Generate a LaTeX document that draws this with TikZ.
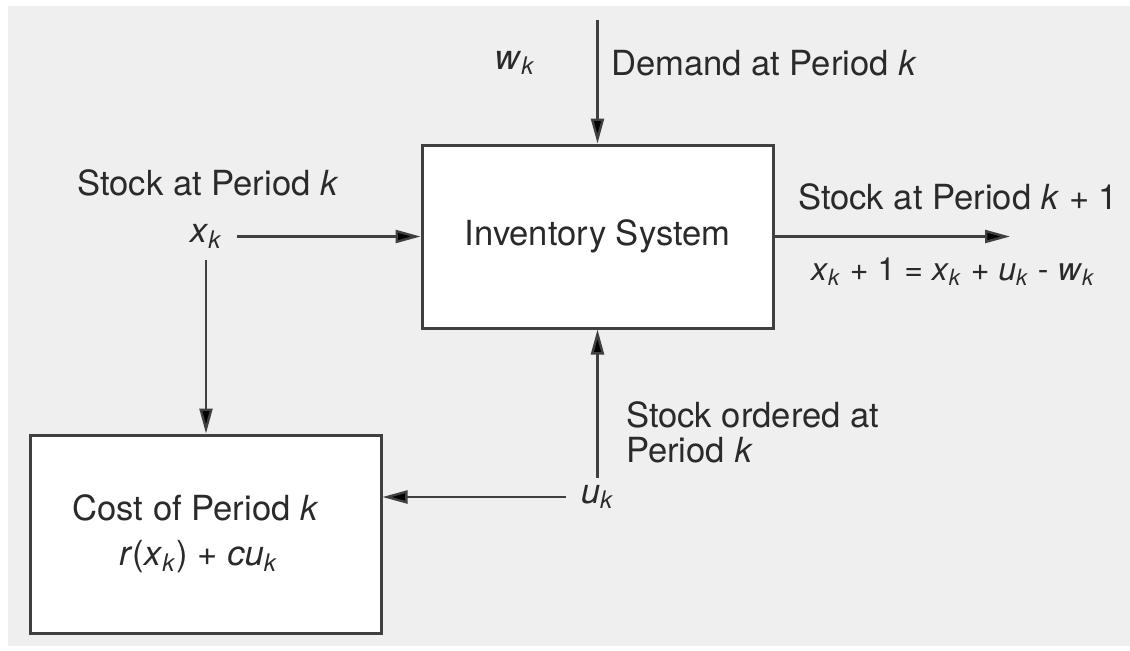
\documentclass[tikz,border=0pt]{standalone}
\usepackage{fontspec}
\setmainfont{TeX Gyre Heros}
\usetikzlibrary{arrows.meta,positioning}
\definecolor{panel}{HTML}{EFEFEF}
\definecolor{ink}{HTML}{2A2A2A}
\newcommand{\ivar}[2]{\textit{#1}\textsubscript{\textit{#2}}}

\begin{document}
\begin{tikzpicture}[x=0.5pt,y=-0.5pt, font=\fontsize{17.3}{17.5}\selectfont, text=ink,
	box/.style={draw=black!75, line width=1.5pt, fill=white, minimum width=175.5pt},
	flow/.style={-{Triangle[length=12.5pt,width=6.5pt,fill=black]}, line width=1.2pt, draw=black!75}]
	\useasboundingbox (0,0) rectangle (1130,650);
	\fill[panel] (8,6) rectangle (1130,646);
	% blocks
	\node[box, minimum height=91.5pt] (inv) at (597.5,236.5) {Inventory System};
	\node[box, minimum height=99pt, align=center] (cost) at (205.5,534) {Cost of Period \textit{k}\hspace*{10pt}\\[5pt]\textit{r}(\ivar{x}{k}) + \textit{c}\ivar{u}{k}\hspace*{7pt}};
	% signals
	\coordinate (wtop) at (597.5,20);
	\coordinate (out) at (1010,236.5);
	\node (wk) at (515,63) {\ivar{w}{k}};
	\node[anchor=west] (dem) at (604,63) {Demand at Period \textit{k}};
	\node (xk) at (206,236.5) {\ivar{x}{k}};
	\node (stk) at (208,183) {Stock at Period \textit{k}};
	\node[anchor=west] (stk1) at (791,197) {Stock at Period \textit{k} + 1};
	\node[anchor=west, font=\fontsize{16}{18}\selectfont] (eq) at (804,272) {\ivar{x}{k} + 1 = \ivar{x}{k} + \ivar{u}{k} - \ivar{w}{k}};
	\node (uk) at (597.5,497) {\ivar{u}{k}};
	\node[anchor=west, align=left] (ord) at (619,432) {Stock ordered at\\Period \textit{k}};
	% arrows
	\draw[flow] (wtop) -- (inv.north);
	\draw[flow, shorten <=4pt] (xk) -- (inv.west);
	\draw[flow] (inv.east) -- (out);
	\draw[flow] (xk.south) ++(0,4) -- (xk.south |- cost.north);
	\draw[flow] (uk) -- (inv.south);
	\draw[flow, shorten <=4pt] (uk.west) -- (uk.west -| cost.east);
\end{tikzpicture}
\end{document}
